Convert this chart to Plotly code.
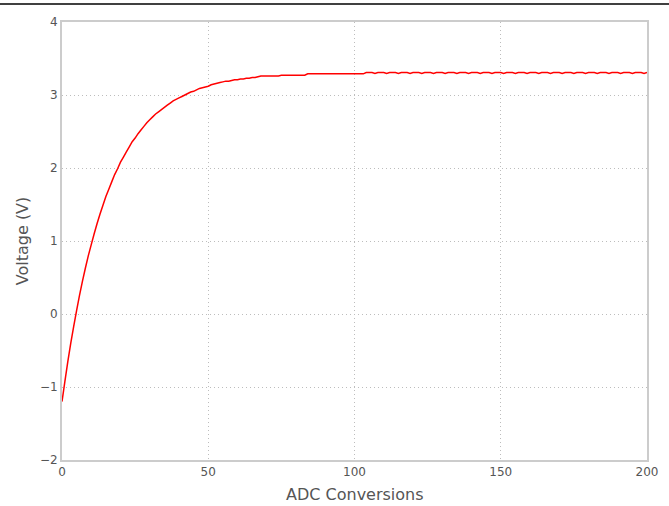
import plotly.graph_objects as go

# ADC conversion index
conversions = list(range(0, 201))

# Voltage readings (V)
rise = [
    -1.20, -0.92, -0.65, -0.40, -0.17, 0.05, 0.26, 0.45, 0.63, 0.80,
    0.95, 1.10, 1.24, 1.37, 1.49, 1.61, 1.71, 1.81, 1.91, 1.99,
    2.08, 2.15, 2.22, 2.29, 2.36, 2.41, 2.47, 2.52, 2.57, 2.62,
    2.66, 2.70, 2.74, 2.77, 2.80, 2.83, 2.86, 2.89, 2.92, 2.94,
    2.96, 2.98, 3.00, 3.02, 3.04, 3.05, 3.07, 3.09, 3.10, 3.11,
    3.12, 3.14, 3.15, 3.16, 3.17, 3.18, 3.19, 3.19, 3.20, 3.21,
    3.21, 3.22, 3.22, 3.23, 3.23, 3.24, 3.24, 3.25, 3.26, 3.26,
    3.26, 3.26, 3.26, 3.26, 3.26, 3.27, 3.27, 3.27, 3.27, 3.27,
    3.27, 3.27, 3.27, 3.27, 3.29, 3.29, 3.29, 3.29, 3.29, 3.29,
    3.29, 3.29, 3.29, 3.29, 3.29, 3.29, 3.29, 3.29, 3.29, 3.29,
    3.29, 3.29, 3.29, 3.29,
]
settled = [
    3.307, 3.307, 3.307, 3.295, 3.307, 3.307, 3.307, 3.295, 3.307, 3.307,
    3.307, 3.295, 3.307, 3.307, 3.307, 3.295, 3.307, 3.307, 3.307, 3.295,
    3.307, 3.307, 3.307, 3.295, 3.307, 3.307, 3.307, 3.295, 3.307, 3.307,
    3.307, 3.295, 3.307, 3.307, 3.307, 3.295, 3.307, 3.307, 3.307, 3.295,
    3.307, 3.307, 3.307, 3.295, 3.307, 3.307, 3.307, 3.295, 3.307, 3.307,
    3.307, 3.295, 3.307, 3.307, 3.307, 3.295, 3.307, 3.307, 3.307, 3.295,
    3.307, 3.307, 3.307, 3.295, 3.307, 3.307, 3.307, 3.295, 3.307, 3.307,
    3.307, 3.295, 3.307, 3.307, 3.307, 3.295, 3.307, 3.307, 3.307, 3.295,
    3.307, 3.307, 3.307, 3.295, 3.307, 3.307, 3.307, 3.295, 3.307, 3.307,
    3.307, 3.295, 3.307, 3.307, 3.307, 3.295, 3.307,
]
voltage = (rise + settled)[:len(conversions)]

x_ticks = [0, 50, 100, 150, 200]
y_ticks = [-2, -1, 0, 1, 2, 3, 4]
x_title = "ADC Conversions"
y_title = "Voltage (V)"

FONT = "DejaVu Sans"
GREY = "#555555"

fig = go.Figure()
fig.add_trace(go.Scatter(
    x=conversions[:len(voltage)], y=voltage, mode="lines",
    line=dict(color="#ff0000", width=1.5, simplify=False),
    showlegend=False,
))

axis_common = dict(
    showline=True, linecolor="#cccccc", linewidth=2, mirror=True,
    showgrid=True, gridcolor="#bdbdbd", griddash="1px,3px", gridwidth=1,
    zeroline=False, ticks="", automargin=False,
    tickfont=dict(family=FONT, size=12, color=GREY),
)

fig.update_xaxes(range=[0, 200], tickvals=x_ticks, **axis_common)
fig.update_yaxes(range=[-2, 4], tickvals=y_ticks, **axis_common)

fig.add_annotation(text=x_title, xref="paper", yref="paper",
                   x=0.5, y=-0.079, xanchor="center", yanchor="middle",
                   showarrow=False, font=dict(family=FONT, size=16, color=GREY))
fig.add_annotation(text=y_title, xref="paper", yref="paper",
                   x=-0.068, y=0.5, xanchor="center", yanchor="middle",
                   textangle=-90, showarrow=False,
                   font=dict(family=FONT, size=16, color=GREY))

fig.add_shape(type="line", xref="paper", yref="paper",
              x0=-0.2, x1=1.1, y0=1.041, y1=1.041,
              line=dict(color="black", width=1.5))

fig.update_layout(
    width=669, height=506,
    margin=dict(l=62, r=22, t=22, b=46),
    plot_bgcolor="white", paper_bgcolor="white",
    font=dict(family=FONT, color=GREY),
)

fig.write_html("out.html", config={"displayModeBar": False},
               post_script="document.body.style.margin='0';")
